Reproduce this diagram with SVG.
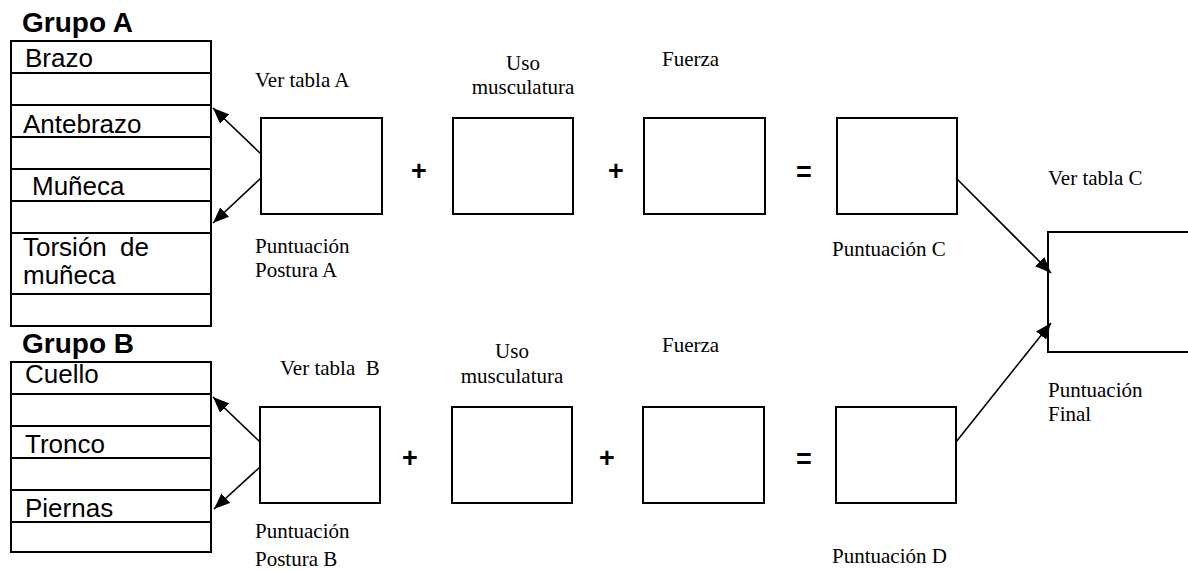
<svg xmlns="http://www.w3.org/2000/svg" width="1188" height="570" viewBox="0 0 1188 570">
  <style>
    .tbl { fill: #fff; stroke: #000; stroke-width: 2; }
    .row { stroke: #000; stroke-width: 2; }
    .box { fill: #fff; stroke: #000; stroke-width: 2; }
    .sans { font-family: "Liberation Sans", Arial, sans-serif; font-size: 26px; fill: #000; }
    .head { font-family: "Liberation Sans", Arial, sans-serif; font-size: 28px; font-weight: bold; fill: #000; }
    .serif { font-family: "Liberation Serif", "Times New Roman", serif; font-size: 21px; fill: #000; }
    .op { font-family: "Liberation Sans", Arial, sans-serif; font-size: 27px; font-weight: bold; fill: #000; text-anchor: middle; }
    .link { fill: none; stroke: #000; stroke-width: 1.6; marker-end: url(#head); }
  </style>
  <defs>
    <marker id="head" markerUnits="userSpaceOnUse" markerWidth="17" markerHeight="13" refX="16" refY="6.5" orient="auto">
      <path d="M0,0 L16,6.5 L0,13 Z" fill="#000"/>
    </marker>
  </defs>

  <rect width="1188" height="570" fill="#fff"/>

  <!-- Group A table -->
  <g id="grupo-a">
    <text class="head" x="22" y="32">Grupo A</text>
    <rect class="tbl" x="11" y="41" width="200" height="285"/>
    <line class="row" x1="11" y1="73" x2="211" y2="73"/>
    <line class="row" x1="11" y1="105" x2="211" y2="105"/>
    <line class="row" x1="11" y1="137" x2="211" y2="137"/>
    <line class="row" x1="11" y1="169" x2="211" y2="169"/>
    <line class="row" x1="11" y1="201" x2="211" y2="201"/>
    <line class="row" x1="11" y1="233" x2="211" y2="233"/>
    <line class="row" x1="11" y1="294" x2="211" y2="294"/>
    <text class="sans" x="25" y="67">Brazo</text>
    <text class="sans" x="23" y="133">Antebrazo</text>
    <text class="sans" x="32" y="195">Muñeca</text>
    <text class="sans" x="23" y="256" word-spacing="6">Torsión de</text>
    <text class="sans" x="23" y="284">muñeca</text>
  </g>

  <!-- Group B table -->
  <g id="grupo-b">
    <text class="head" x="22" y="353">Grupo B</text>
    <rect class="tbl" x="11" y="362" width="200" height="190"/>
    <line class="row" x1="11" y1="394" x2="211" y2="394"/>
    <line class="row" x1="11" y1="426" x2="211" y2="426"/>
    <line class="row" x1="11" y1="458" x2="211" y2="458"/>
    <line class="row" x1="11" y1="490" x2="211" y2="490"/>
    <line class="row" x1="11" y1="522" x2="211" y2="522"/>
    <text class="sans" x="25" y="383">Cuello</text>
    <text class="sans" x="25" y="453">Tronco</text>
    <text class="sans" x="25" y="517">Piernas</text>
  </g>

  <!-- Row A: posture + muscle use + force = score C -->
  <g id="postura-a">
    <text class="serif" x="255" y="87">Ver tabla A</text>
    <rect class="box" x="261" y="118" width="121" height="96"/>
    <text class="serif" x="255" y="253">Puntuación</text>
    <text class="serif" x="255" y="277">Postura A</text>
  </g>
  <text class="op" x="419" y="180">+</text>
  <g id="musculatura-a">
    <text class="serif" x="523" y="70" text-anchor="middle">Uso</text>
    <text class="serif" x="523" y="94" text-anchor="middle">musculatura</text>
    <rect class="box" x="453" y="118" width="120" height="96"/>
  </g>
  <text class="op" x="616" y="180">+</text>
  <g id="fuerza-a">
    <text class="serif" x="662" y="66">Fuerza</text>
    <rect class="box" x="644" y="118" width="121" height="96"/>
  </g>
  <text class="op" x="804" y="181">=</text>
  <g id="puntuacion-c">
    <rect class="box" x="837" y="118" width="120" height="96"/>
    <text class="serif" x="832" y="256">Puntuación C</text>
  </g>

  <!-- Row B: posture + muscle use + force = score D -->
  <g id="postura-b">
    <text class="serif" x="280" y="375" xml:space="preserve">Ver tabla  B</text>
    <rect class="box" x="260" y="407" width="120" height="96"/>
    <text class="serif" x="255" y="538">Puntuación</text>
    <text class="serif" x="255" y="566">Postura B</text>
  </g>
  <text class="op" x="410" y="467">+</text>
  <g id="musculatura-b">
    <text class="serif" x="512" y="358" text-anchor="middle">Uso</text>
    <text class="serif" x="512" y="383" text-anchor="middle">musculatura</text>
    <rect class="box" x="452" y="407" width="120" height="96"/>
  </g>
  <text class="op" x="607" y="467">+</text>
  <g id="fuerza-b">
    <text class="serif" x="662" y="352">Fuerza</text>
    <rect class="box" x="643" y="407" width="121" height="96"/>
  </g>
  <text class="op" x="804" y="468">=</text>
  <g id="puntuacion-d">
    <rect class="box" x="836" y="407" width="120" height="96"/>
    <text class="serif" x="832" y="563">Puntuación D</text>
  </g>

  <!-- Final score -->
  <g id="puntuacion-final">
    <text class="serif" x="1048" y="185">Ver tabla C</text>
    <rect class="box" x="1048" y="232" width="160" height="120"/>
    <text class="serif" x="1048" y="397">Puntuación</text>
    <text class="serif" x="1048" y="421">Final</text>
  </g>

  <!-- Connectors -->
  <g id="connectors">
    <line class="link" x1="261" y1="154" x2="213" y2="108"/>
    <line class="link" x1="261" y1="178" x2="213" y2="223"/>
    <line class="link" x1="260" y1="442" x2="213" y2="397"/>
    <line class="link" x1="260" y1="467" x2="214" y2="509"/>
    <line class="link" x1="956" y1="178" x2="1051" y2="273"/>
    <line class="link" x1="956" y1="442" x2="1051" y2="323"/>
  </g>
</svg>
